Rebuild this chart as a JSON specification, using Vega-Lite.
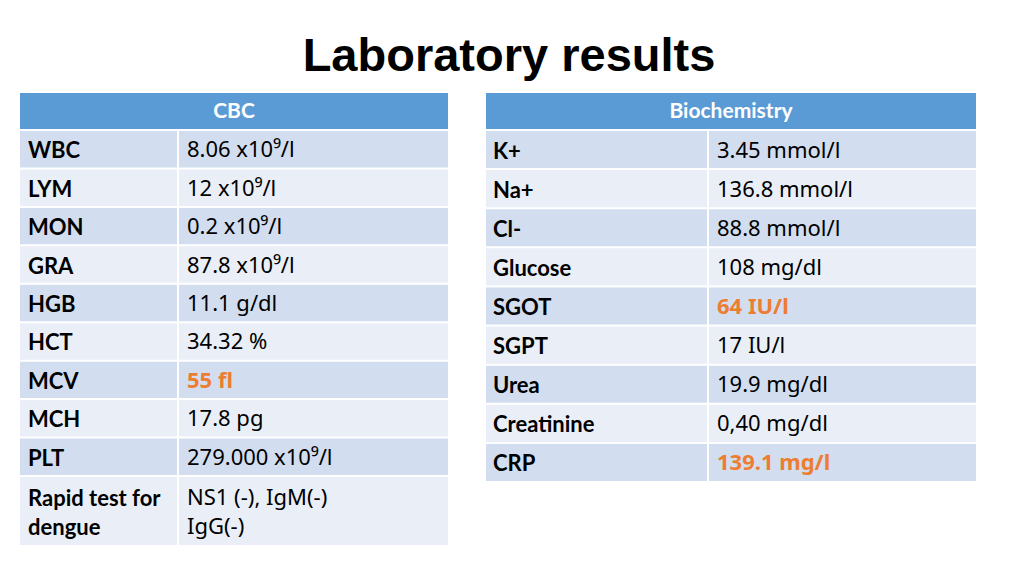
{
  "$schema": "https://vega.github.io/schema/vega-lite/v6.json",
  "background": "white",
  "padding": {"left": 20, "top": 33, "right": 0, "bottom": 0},
  "title": {"text": "Laboratory results", "font": "Liberation Sans", "fontSize": 47, "fontWeight": "bold", "color": "#000000", "anchor": "middle", "offset": 12, "dx": 11},
  "config": {"view": {"stroke": null}, "concat": {"spacing": 2}},
  "datasets": {
    "headers": [{"table": "CBC"}, {"table": "Biochemistry"}],
    "cbc": [
      {"test": "WBC", "result": "8.06 x10⁹/l", "flag": false},
      {"test": "LYM", "result": "12 x10⁹/l", "flag": false},
      {"test": "MON", "result": "0.2 x10⁹/l", "flag": false},
      {"test": "GRA", "result": "87.8 x10⁹/l", "flag": false},
      {"test": "HGB", "result": "11.1 g/dl", "flag": false},
      {"test": "HCT", "result": "34.32 %", "flag": false},
      {"test": "MCV", "result": "55 fl", "flag": true},
      {"test": "MCH", "result": "17.8 pg", "flag": false},
      {"test": "PLT", "result": "279.000 x10⁹/l", "flag": false}
    ],
    "cbc_dengue": [
      {"test": "Rapid test for\ndengue", "result": "NS1 (-), IgM(-)\nIgG(-)", "flag": false}
    ],
    "bio": [
      {"test": "K+", "result": "3.45 mmol/l", "flag": false},
      {"test": "Na+", "result": "136.8 mmol/l", "flag": false},
      {"test": "Cl-", "result": "88.8 mmol/l", "flag": false},
      {"test": "Glucose", "result": "108 mg/dl", "flag": false},
      {"test": "SGOT", "result": "64 IU/l", "flag": true},
      {"test": "SGPT", "result": "17 IU/l", "flag": false},
      {"test": "Urea", "result": "19.9 mg/dl", "flag": false},
      {"test": "Creatinine", "result": "0,40 mg/dl", "flag": false},
      {"test": "CRP", "result": "139.1 mg/l", "flag": true}
    ]
  },
  "spacing": 38,
  "hconcat": [
    {
      "spacing": 2,
      "vconcat": [
        {
          "width": 428, "height": 36,
          "data": {"name": "headers"},
          "transform": [{"filter": "datum.table == 'CBC'"}],
          "encoding": {"y": {"field": "table", "type": "nominal", "axis": null, "scale": {"paddingInner": 0, "paddingOuter": 0}}},
          "layer": [
            {"mark": {"type": "rect", "fill": "#5B9BD5"}},
            {"mark": {"type": "text", "font": "Lato", "fontSize": 21, "fontWeight": "bold", "color": "#FFFFFF", "align": "center", "baseline": "middle", "dy": 1}, "encoding": {"text": {"field": "table"}}}
          ]
        },
        {
          "spacing": 2,
          "hconcat": [
            {
              "width": 157, "height": 344,
              "data": {"name": "cbc"},
              "transform": [{"window": [{"op": "row_number", "as": "n"}]}],
              "encoding": {"y": {"field": "test", "type": "nominal", "sort": null, "axis": null, "scale": {"paddingInner": 0.052, "paddingOuter": 0}}},
              "layer": [
                {"mark": {"type": "rect"}, "encoding": {"fill": {"condition": {"test": "datum.n % 2 == 1", "value": "#D2DEEF"}, "value": "#EAEFF7"}}},
                {"mark": {"type": "text", "font": "Lato", "fontSize": 22, "fontWeight": "bold", "color": "#000000", "align": "left", "baseline": "middle", "dx": 8, "dy": 2},
                 "encoding": {"x": {"datum": 0, "type": "quantitative", "scale": {"domain": [0, 1]}, "axis": null}, "text": {"field": "test"}}}
              ]
            },
            {
              "width": 269, "height": 344,
              "data": {"name": "cbc"},
              "transform": [{"window": [{"op": "row_number", "as": "n"}]}],
              "encoding": {"y": {"field": "test", "type": "nominal", "sort": null, "axis": null, "scale": {"paddingInner": 0.052, "paddingOuter": 0}}},
              "layer": [
                {"mark": {"type": "rect"}, "encoding": {"fill": {"condition": {"test": "datum.n % 2 == 1", "value": "#D2DEEF"}, "value": "#EAEFF7"}}},
                {"transform": [{"filter": "!datum.flag"}],
                 "mark": {"type": "text", "font": "Noto Sans", "fontSize": 22, "color": "#000000", "align": "left", "baseline": "middle", "dx": 8, "dy": 1},
                 "encoding": {"x": {"datum": 0, "type": "quantitative", "scale": {"domain": [0, 1]}, "axis": null}, "text": {"field": "result"}}},
                {"transform": [{"filter": "datum.flag"}],
                 "mark": {"type": "text", "font": "Noto Sans", "fontSize": 22, "fontWeight": "bold", "color": "#ED7D31", "align": "left", "baseline": "middle", "dx": 8, "dy": 1},
                 "encoding": {"x": {"datum": 0, "type": "quantitative", "scale": {"domain": [0, 1]}, "axis": null}, "text": {"field": "result"}}}
              ]
            }
          ]
        },
        {
          "spacing": 2,
          "hconcat": [
            {
              "width": 157, "height": 68,
              "data": {"name": "cbc_dengue"},
              "encoding": {"y": {"field": "test", "type": "nominal", "axis": null, "scale": {"paddingInner": 0, "paddingOuter": 0}}},
              "layer": [
                {"mark": {"type": "rect", "fill": "#EAEFF7"}},
                {"mark": {"type": "text", "font": "Lato", "fontSize": 22, "fontWeight": "bold", "color": "#000000", "align": "left", "baseline": "middle", "dx": 8, "dy": -12, "lineBreak": "\n", "lineHeight": 29},
                 "encoding": {"x": {"datum": 0, "type": "quantitative", "scale": {"domain": [0, 1]}, "axis": null}, "text": {"field": "test"}}}
              ]
            },
            {
              "width": 269, "height": 68,
              "data": {"name": "cbc_dengue"},
              "encoding": {"y": {"field": "test", "type": "nominal", "axis": null, "scale": {"paddingInner": 0, "paddingOuter": 0}}},
              "layer": [
                {"mark": {"type": "rect", "fill": "#EAEFF7"}},
                {"mark": {"type": "text", "font": "Noto Sans", "fontSize": 22, "color": "#000000", "align": "left", "baseline": "middle", "dx": 8, "dy": -13, "lineBreak": "\n", "lineHeight": 29},
                 "encoding": {"x": {"datum": 0, "type": "quantitative", "scale": {"domain": [0, 1]}, "axis": null}, "text": {"field": "result"}}}
              ]
            }
          ]
        }
      ]
    },
    {
      "spacing": 2,
      "vconcat": [
        {
          "width": 490, "height": 36,
          "data": {"name": "headers"},
          "transform": [{"filter": "datum.table == 'Biochemistry'"}],
          "encoding": {"y": {"field": "table", "type": "nominal", "axis": null, "scale": {"paddingInner": 0, "paddingOuter": 0}}},
          "layer": [
            {"mark": {"type": "rect", "fill": "#5B9BD5"}},
            {"mark": {"type": "text", "font": "Lato", "fontSize": 21, "fontWeight": "bold", "color": "#FFFFFF", "align": "center", "baseline": "middle", "dy": 1}, "encoding": {"text": {"field": "table"}}}
          ]
        },
        {
          "spacing": 2,
          "hconcat": [
            {
              "width": 221, "height": 350,
              "data": {"name": "bio"},
              "transform": [{"window": [{"op": "row_number", "as": "n"}]}],
              "encoding": {"y": {"field": "test", "type": "nominal", "sort": null, "axis": null, "scale": {"paddingInner": 0.051, "paddingOuter": 0}}},
              "layer": [
                {"mark": {"type": "rect"}, "encoding": {"fill": {"condition": {"test": "datum.n % 2 == 1", "value": "#D2DEEF"}, "value": "#EAEFF7"}}},
                {"mark": {"type": "text", "font": "Lato", "fontSize": 22, "fontWeight": "bold", "color": "#000000", "align": "left", "baseline": "middle", "dx": 7, "dy": 2},
                 "encoding": {"x": {"datum": 0, "type": "quantitative", "scale": {"domain": [0, 1]}, "axis": null}, "text": {"field": "test"}}}
              ]
            },
            {
              "width": 267, "height": 350,
              "data": {"name": "bio"},
              "transform": [{"window": [{"op": "row_number", "as": "n"}]}],
              "encoding": {"y": {"field": "test", "type": "nominal", "sort": null, "axis": null, "scale": {"paddingInner": 0.051, "paddingOuter": 0}}},
              "layer": [
                {"mark": {"type": "rect"}, "encoding": {"fill": {"condition": {"test": "datum.n % 2 == 1", "value": "#D2DEEF"}, "value": "#EAEFF7"}}},
                {"transform": [{"filter": "!datum.flag"}],
                 "mark": {"type": "text", "font": "Noto Sans", "fontSize": 22, "color": "#000000", "align": "left", "baseline": "middle", "dx": 8, "dy": 1},
                 "encoding": {"x": {"datum": 0, "type": "quantitative", "scale": {"domain": [0, 1]}, "axis": null}, "text": {"field": "result"}}},
                {"transform": [{"filter": "datum.flag"}],
                 "mark": {"type": "text", "font": "Noto Sans", "fontSize": 22, "fontWeight": "bold", "color": "#ED7D31", "align": "left", "baseline": "middle", "dx": 8, "dy": 1},
                 "encoding": {"x": {"datum": 0, "type": "quantitative", "scale": {"domain": [0, 1]}, "axis": null}, "text": {"field": "result"}}}
              ]
            }
          ]
        }
      ]
    }
  ]
}
